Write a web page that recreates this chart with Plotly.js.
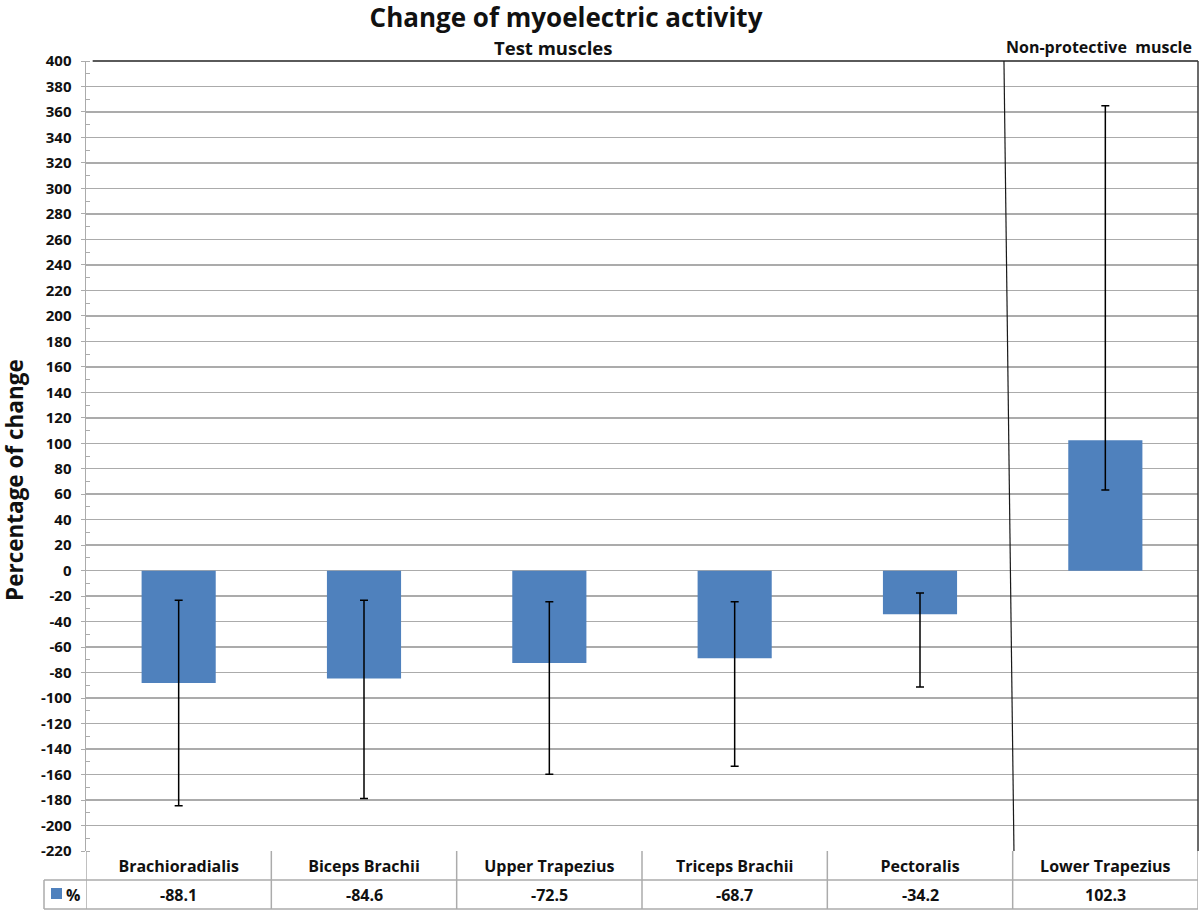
<!DOCTYPE html>
<html>
<head>
<meta charset="utf-8">
<script src="https://cdn.plot.ly/plotly-3.0.1.min.js"></script>
<style>html,body{margin:0;padding:0;background:#fff;}#chart{width:1200px;height:911px;}</style>
</head>
<body>
<div id="chart"></div>
<script>
// ---- data ----
const muscles = ["Brachioradialis", "Biceps Brachii", "Upper Trapezius", "Triceps Brachii", "Pectoralis", "Lower Trapezius"];
const changePct = [-88.1, -84.6, -72.5, -68.7, -34.2, 102.3];
const errPlus  = [64.9, 61.4, 48.2, 44.4, 16.7, 262.5];
const errMinus = [96.4, 94.1, 87.2, 84.7, 57.1, 38.9];
const valueLabels = ["-88.1", "-84.6", "-72.5", "-68.7", "-34.2", "102.3"];
const seriesName = "%";
const yTicks = [];
for (let v = -220; v <= 400; v += 20) yTicks.push(v);

const FONT = "'Open Sans', 'Noto Sans', 'DejaVu Sans', sans-serif";
const barColor = "#4F81BD";
const gridColor = "#ABABAB";
const tableColor = "#ABABAB";
const textColor = "#111111";

const trace = {
  type: "bar",
  x: muscles,
  y: changePct,
  name: seriesName,
  marker: { color: barColor },
  error_y: {
    type: "data", symmetric: false,
    array: errPlus, arrayminus: errMinus,
    color: "#000000", thickness: 1.5, width: 4
  },
  hoverinfo: "x+y"
};

// table geometry in paper units (plot area: y 61..851 px, x 86..1198 px)
const plotH = 790, plotW = 1112;
const row1Bottom = -(880 - 851) / plotH;
const row2Bottom = -(909 - 851) / plotH;
const legLeft = -(86 - 44) / plotW;

const shapes = [];
shapes.push({type:"line", xref:"paper", yref:"paper", x0:legLeft, x1:1, y0:row1Bottom, y1:row1Bottom, line:{color:tableColor, width:1.5}});
shapes.push({type:"line", xref:"paper", yref:"paper", x0:legLeft, x1:1, y0:row2Bottom, y1:row2Bottom, line:{color:tableColor, width:1.5}});
shapes.push({type:"line", xref:"paper", yref:"paper", x0:legLeft, x1:legLeft, y0:row1Bottom, y1:row2Bottom, line:{color:tableColor, width:1.5}});
for (let i = 0; i <= muscles.length; i++) {
  shapes.push({type:"line", xref:"x", yref:"paper", x0:i - 0.5, x1:i - 0.5, y0:0, y1:row2Bottom, line:{color:tableColor, width:1.5}});
}
// top border (400 line) and right border
shapes.push({type:"line", xref:"paper", yref:"paper", x0:0.006, x1:1, y0:1, y1:1, line:{color:"#5A5A5A", width:2}});
shapes.push({type:"line", xref:"paper", yref:"paper", x0:1, x1:1, y0:0, y1:1, line:{color:"#3A3A3A", width:1.5}});
// separator between test muscles and non-protective muscle (slightly slanted)
shapes.push({type:"line", xref:"x", yref:"paper", x0:4.453, x1:4.507, y0:1, y1:0, line:{color:"#1A1A1A", width:1.2}});
// legend key square
shapes.push({type:"rect", xref:"paper", yref:"paper", x0:-(86-51)/plotW, x1:-(86-62)/plotW, y0:-(899-851)/plotH, y1:-(888-851)/plotH, fillcolor:barColor, line:{width:0}});

const annotations = [];
for (let i = 0; i < muscles.length; i++) {
  annotations.push({xref:"x", yref:"paper", x:muscles[i], y:(row1Bottom + row2Bottom) / 2, text:valueLabels[i], showarrow:false,
    xanchor:"center", yanchor:"middle", font:{family:FONT, size:16, color:textColor, weight:"bold"}});
}
annotations.push({xref:"paper", yref:"paper", x:-(86-64)/plotW, y:(row1Bottom + row2Bottom) / 2, text:seriesName, showarrow:false,
  xanchor:"left", yanchor:"middle", font:{family:FONT, size:16, color:textColor, weight:"bold"}});
annotations.push({xref:"paper", yref:"paper", x:(553-86)/plotW, y:1 + (61-48)/plotH, text:"Test muscles", showarrow:false,
  xanchor:"center", yanchor:"middle", font:{family:FONT, size:18.5, color:textColor, weight:"bold"}});
annotations.push({xref:"paper", yref:"paper", x:(1099-86)/plotW, y:1 + (61-47)/plotH, text:"Non-protective&nbsp;&nbsp;muscle", showarrow:false,
  xanchor:"center", yanchor:"middle", font:{family:FONT, size:16, color:textColor, weight:"bold"}});
annotations.push({xref:"paper", yref:"paper", x:-(86-15)/plotW, y:(851-480)/plotH, text:"Percentage of change", showarrow:false,
  textangle:-90, xanchor:"center", yanchor:"middle", font:{family:FONT, size:22.5, color:textColor, weight:"bold"}});

const layout = {
  width: 1200, height: 911,
  margin: {l: 86, r: 2, t: 61, b: 60, pad: 0},
  paper_bgcolor: "#fff", plot_bgcolor: "#fff",
  showlegend: false,
  bargap: 0.6,
  title: {text: "Change of myoelectric activity", x: 566 / 1200, xanchor: "center", y: 1 - 18/911, yanchor: "middle",
    font: {family: FONT, size: 26, color: textColor, weight: "bold"}},
  xaxis: {
    type: "category", range: [-0.5, 5.5], fixedrange: true,
    showgrid: false, zeroline: false, showline: false,
    ticks: "", tickfont: {family: FONT, size: 16, color: textColor, weight: "bold"},
    ticklabelstandoff: 4
  },
  yaxis: {
    range: [-220, 400], tickvals: yTicks, ticktext: yTicks.map(String),
    showgrid: true, gridcolor: gridColor, gridwidth: 1.5,
    zeroline: false, showline: true, linecolor: gridColor, linewidth: 1.5,
    ticks: "outside", ticklen: 4, tickcolor: gridColor,
    minor: {dtick: 10, tick0: 0, ticks: "inside", ticklen: 4, tickcolor: gridColor, showgrid: false},
    tickfont: {family: FONT, size: 15, color: textColor, weight: "bold"},
    ticklabelstandoff: 6
  },
  shapes: shapes,
  annotations: annotations
};

Plotly.newPlot("chart", [trace], layout, {displayModeBar: false, staticPlot: true});
</script>
</body>
</html>
